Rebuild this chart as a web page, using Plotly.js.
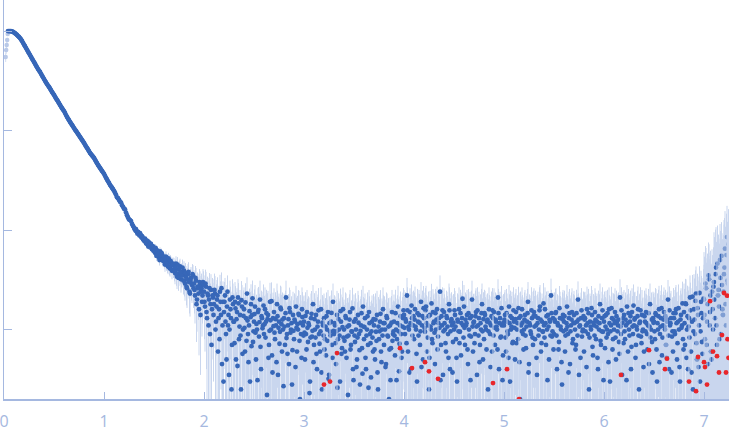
<!DOCTYPE html>
<html>
<head>
<meta charset="utf-8">
<script src="https://cdn.plot.ly/plotly-3.0.1.min.js"></script>
<style>
  html, body { margin: 0; padding: 0; background: #ffffff; }
  #chart { width: 729px; height: 437px; }
</style>
</head>
<body>
<div id="chart"></div>
<script>
// first low-q points, shown faded (excluded)
var fadedX = [0.017, 0.022, 0.027, 0.032, 0.037];
var fadedY = [548, 644, 723, 812, 933];
var fadedErr = [60, 55, 50, 45, 40];

// smooth part of the curve
var curveX = [
  0.04,0.05,0.06,0.07,0.08,0.09,0.10,0.11,0.12,0.13,
  0.14,0.15,0.16,0.17,0.18,0.19,0.20,0.21,0.22,0.23,
  0.24,0.25,0.26,0.27,0.28,0.29,0.30,0.31,0.32,0.33,
  0.34,0.35,0.36,0.37,0.38,0.39,0.40,0.41,0.42,0.43,
  0.44,0.45,0.46,0.47,0.48,0.49,0.50,0.51,0.52,0.53,
  0.54,0.55,0.56,0.57,0.58,0.59,0.60,0.61,0.62,0.63,
  0.64,0.65,0.66,0.67,0.68,0.69,0.70,0.71,0.72,0.73,
  0.74,0.75,0.76,0.77,0.78,0.79,0.80,0.81,0.82,0.83,
  0.84,0.85,0.86,0.87,0.88,0.89,0.90,0.91,0.92,0.93,
  0.94,0.95,0.96,0.97,0.98,0.99,1.00,1.01,1.02,1.03,
  1.04,1.05,1.06,1.07,1.08,1.09,1.10,1.11,1.12,1.13,
  1.14,1.15,1.16,1.17,1.18,1.19,1.20,1.21,1.22,1.23,
  1.24,1.25,1.26,1.27,1.28,1.29
];
var curveY = [
  1000,1000,998,995,990,979,966,950,933,912,
  891,871,850,822,794,762,732,703,675,648,
  622,597,574,551,529,508,488,469,450,432,
  415,401,388,372,357,343,329,316,304,293,
  283,274,265,254,244,236,228,219,210,203,
  196,188,181,174,168,162,157,150,143,137,
  132,127,122,118,114,110,106,102,99,95.7,
  92.5,89.4,86.3,83.3,80.5,77.7,75.1,72.1,69.3,66.9,
  64.6,62.0,59.6,57.9,56.2,54.6,53.0,50.9,48.9,47.0,
  45.1,43.6,42.1,40.7,39.3,38.0,36.7,35.1,33.5,32.2,
  30.9,29.7,28.5,27.5,26.6,25.7,24.8,23.7,22.6,21.3,
  20.9,20.1,19.3,18.9,17.8,17.1,16.4,16.1,15.0,14.1,
  13.4,12.8,12.6,12.3,11.5,11.0
];
var curveErr = [
  4,4,4,4,4,4,4,3.9,3.8,3.7,
  3.6,3.5,3.4,3.3,3.2,3.1,3,2.9,2.8,2.7,
  2.6,2.55,2.5,2.45,2.4,2.3,2.2,2.15,2.1,2.05,
  2,1.95,1.9,1.85,1.8,1.75,1.7,1.65,1.6,1.55,
  1.5,1.48,1.45,1.42,1.4,1.35,1.3,1.28,1.25,1.22,
  1.2,1.18,1.15,1.12,1.1,1.08,1.05,1.02,1,0.98,
  0.95,0.92,0.9,0.89,0.88,0.86,0.85,0.82,0.8,0.79,
  0.78,0.76,0.75,0.74,0.72,0.71,0.7,0.69,0.67,0.66,
  0.65,0.64,0.62,0.61,0.6,0.59,0.58,0.57,0.56,0.55,
  0.54,0.53,0.52,0.51,0.5,0.49,0.48,0.47,0.46,0.46,
  0.45,0.45,0.44,0.43,0.42,0.42,0.41,0.4,0.4,0.39,
  0.39,0.38,0.38,0.37,0.37,0.36,0.36,0.35,0.35,0.35,
  0.35,0.34,0.34,0.34,0.34,0.34
];

// noisy part, one row per 0.1 in q (points on the hundredths)
var noiseX = [
  [1.30,1.31,1.32,1.33,1.34,1.35,1.36,1.37,1.38,1.39],
  [1.40,1.41,1.42,1.43,1.44,1.45,1.46,1.47,1.48,1.49],
  [1.50,1.51,1.52,1.53,1.54,1.55,1.56,1.57,1.58,1.59],
  [1.60,1.61,1.62,1.63,1.64,1.65,1.66,1.67,1.68,1.69],
  [1.70,1.71,1.72,1.73,1.74,1.75,1.76,1.77,1.78,1.79],
  [1.80,1.81,1.82,1.83,1.84,1.85,1.86,1.87,1.88,1.89],
  [1.90,1.91,1.92,1.93,1.94,1.95,1.96,1.97,1.98,1.99],
  [2.00,2.01,2.02,2.03,2.04,2.05,2.06,2.07,2.08,2.09],
  [2.10,2.11,2.12,2.13,2.14,2.15,2.16,2.17,2.18,2.19],
  [2.20,2.21,2.22,2.23,2.24,2.25,2.26,2.27,2.28,2.29],
  [2.30,2.31,2.32,2.33,2.34,2.35,2.36,2.37,2.38,2.39],
  [2.40,2.41,2.42,2.43,2.44,2.45,2.46,2.47,2.48,2.49],
  [2.50,2.51,2.52,2.53,2.54,2.55,2.56,2.57,2.58,2.59],
  [2.60,2.61,2.62,2.63,2.64,2.65,2.66,2.67,2.68,2.69],
  [2.70,2.71,2.72,2.73,2.74,2.75,2.76,2.77,2.78,2.79],
  [2.80,2.81,2.82,2.83,2.84,2.85,2.86,2.87,2.88,2.89],
  [2.90,2.91,2.92,2.93,2.94,2.95,2.96,2.97,2.98,2.99],
  [3.00,3.01,3.02,3.03,3.04,3.05,3.06,3.07,3.08,3.09],
  [3.10,3.11,3.12,3.13,3.14,3.15,3.16,3.17,3.18,3.19],
  [3.20,3.21,3.22,3.23,3.24,3.25,3.26,3.27,3.28,3.29],
  [3.30,3.31,3.32,3.33,3.34,3.35,3.36,3.37,3.38,3.39],
  [3.40,3.41,3.42,3.43,3.44,3.45,3.46,3.47,3.48,3.49],
  [3.50,3.51,3.52,3.53,3.54,3.55,3.56,3.57,3.58,3.59],
  [3.60,3.61,3.62,3.63,3.64,3.65,3.66,3.67,3.68,3.69],
  [3.70,3.71,3.72,3.73,3.74,3.75,3.76,3.77,3.78,3.79],
  [3.80,3.81,3.82,3.83,3.84,3.85,3.86,3.87,3.88,3.89],
  [3.90,3.91,3.92,3.93,3.94,3.95,3.96,3.97,3.98,3.99],
  [4.00,4.01,4.02,4.03,4.04,4.05,4.06,4.07,4.08,4.09],
  [4.10,4.11,4.12,4.13,4.14,4.15,4.16,4.17,4.18,4.19],
  [4.20,4.21,4.22,4.23,4.24,4.25,4.26,4.27,4.28,4.29],
  [4.30,4.31,4.32,4.33,4.34,4.35,4.36,4.37,4.38,4.39],
  [4.40,4.41,4.42,4.43,4.44,4.45,4.46,4.47,4.48,4.49],
  [4.50,4.51,4.52,4.53,4.54,4.55,4.56,4.57,4.58,4.59],
  [4.60,4.61,4.62,4.63,4.64,4.65,4.66,4.67,4.68,4.69],
  [4.70,4.71,4.72,4.73,4.74,4.75,4.76,4.77,4.78,4.79],
  [4.80,4.81,4.82,4.83,4.84,4.85,4.86,4.87,4.88,4.89],
  [4.90,4.91,4.92,4.93,4.94,4.95,4.96,4.97,4.98,4.99],
  [5.00,5.01,5.02,5.03,5.04,5.05,5.06,5.07,5.08,5.09],
  [5.10,5.11,5.12,5.13,5.14,5.15,5.16,5.17,5.18,5.19],
  [5.20,5.21,5.22,5.23,5.24,5.25,5.26,5.27,5.28,5.29],
  [5.30,5.31,5.32,5.33,5.34,5.35,5.36,5.37,5.38,5.39],
  [5.40,5.41,5.42,5.43,5.44,5.45,5.46,5.47,5.48,5.49],
  [5.50,5.51,5.52,5.53,5.54,5.55,5.56,5.57,5.58,5.59],
  [5.60,5.61,5.62,5.63,5.64,5.65,5.66,5.67,5.68,5.69],
  [5.70,5.71,5.72,5.73,5.74,5.75,5.76,5.77,5.78,5.79],
  [5.80,5.81,5.82,5.83,5.84,5.85,5.86,5.87,5.88,5.89],
  [5.90,5.91,5.92,5.93,5.94,5.95,5.96,5.97,5.98,5.99],
  [6.00,6.01,6.02,6.03,6.04,6.05,6.06,6.07,6.08,6.09],
  [6.10,6.11,6.12,6.13,6.14,6.15,6.16,6.17,6.18,6.19],
  [6.20,6.21,6.22,6.23,6.24,6.25,6.26,6.27,6.28,6.29],
  [6.30,6.31,6.32,6.33,6.34,6.35,6.36,6.37,6.38,6.39],
  [6.40,6.41,6.42,6.43,6.44,6.45,6.46,6.47,6.48,6.49],
  [6.50,6.51,6.52,6.53,6.54,6.55,6.56,6.57,6.58,6.59],
  [6.60,6.61,6.62,6.63,6.64,6.65,6.66,6.67,6.68,6.69],
  [6.70,6.71,6.72,6.73,6.74,6.75,6.76,6.77,6.78,6.79],
  [6.80,6.81,6.82,6.83,6.84,6.85,6.86,6.87,6.88,6.89],
  [6.90,6.91,6.92,6.93,6.94,6.95,6.96,6.97,6.98,6.99],
  [7.00,7.01,7.02,7.03,7.04,7.05,7.06,7.07,7.08,7.09],
  [7.10,7.11,7.12,7.13,7.14,7.15,7.16,7.17,7.18,7.19],
  [7.20,7.21,7.22,7.23,7.24]
];
var noiseY = [
  [10.6,10.1,10.2,9.5,9.6,9.0,9.3,8.6,8.7,8.1],
  [7.9,8.2,7.4,7.6,7.0,7.5,6.9,7.2,6.4,6.8],
  [6.5,5.9,6.4,5.6,6.0,5.3,6.1,5.2,5.7,4.9],
  [5.2,4.5,5.4,4.8,4.3,5.0,4.1,4.7,3.9,4.6],
  [4.4,3.7,4.6,3.4,4.0,3.6,4.3,3.2,3.8,3.5],
  [3.9,2.9,3.4,2.6,3.6,3.0,2.3,3.3,2.8,3.5],
  [2.9,2.2,3.1,2.0,2.6,1.6,2.8,2.4,1.9,3.0],
  [2.4,1.7,2.7,1.3,2.2,2.0,0.9,2.5,1.6,2.1],
  [1.8,2.3,1.2,2.0,0.6,1.6,2.4,1.4,0.45,1.9],
  [1.5,2.2,0.9,1.7,1.1,0.35,2.0,1.3,0.7,1.8],
  [1.2,1.9,0.5,1.5,2.1,0.8,1.4,0.25,1.7,1.0],
  [1.6,0.6,1.3,2.3,0.9,1.1,0.3,1.8,1.4,0.75],
  [1.2,1.7,0.5,1.0,1.5,0.85,2.0,0.4,1.3,1.1],
  [0.9,1.6,1.2,0.22,1.4,0.7,1.9,1.0,0.55,1.3],
  [1.5,0.8,1.1,1.8,0.35,1.2,0.95,1.6,0.6,1.0],
  [1.3,0.7,2.1,0.9,1.1,0.45,1.5,1.0,0.28,1.4],
  [0.8,1.2,1.7,0.6,1.0,1.4,0.2,0.9,1.6,1.1],
  [1.2,0.5,0.9,1.5,0.75,1.1,0.3,1.3,0.85,1.8],
  [0.7,1.0,1.4,0.4,1.2,0.9,0.6,1.6,0.25,1.1],
  [1.3,0.8,0.55,1.0,1.5,0.35,0.95,1.2,0.7,1.9],
  [0.9,1.1,0.45,1.4,0.8,1.0,0.3,1.2,0.65,1.6],
  [1.0,0.6,1.3,0.85,0.22,1.1,1.5,0.7,0.95,0.4],
  [1.2,0.75,1.0,0.5,1.4,0.9,0.28,1.1,0.65,1.7],
  [0.8,1.3,0.4,1.0,0.7,1.5,0.9,0.33,1.2,0.6],
  [1.1,0.5,0.95,1.4,0.25,0.8,1.2,0.6,1.0,1.6],
  [0.7,1.0,0.45,1.3,0.85,0.2,1.1,0.65,1.5,0.9],
  [1.2,0.55,1.0,0.8,1.7,0.38,1.1,0.9,0.6,1.3],
  [1.4,0.9,1.2,2.2,0.6,1.0,1.5,0.4,1.3,1.1],
  [0.8,1.6,1.0,0.3,1.2,1.4,0.7,1.9,1.1,0.5],
  [1.3,0.95,1.7,0.6,1.1,0.25,1.4,1.0,0.8,1.5],
  [1.2,0.45,1.0,1.6,0.85,1.3,2.4,0.7,1.1,0.35],
  [1.5,1.0,0.6,1.3,0.9,1.8,0.4,1.2,1.1,0.75],
  [1.0,1.4,0.8,0.3,1.2,1.6,0.95,0.55,1.3,1.1],
  [1.7,0.7,1.1,1.4,0.45,1.0,1.3,0.85,2.0,0.6],
  [1.2,0.9,1.5,0.35,1.1,1.3,0.7,1.0,1.8,0.5],
  [0.8,1.4,1.0,1.2,0.25,1.6,0.9,1.1,0.6,1.3],
  [1.5,0.7,1.2,1.0,2.1,0.4,1.3,0.85,1.1,0.55],
  [1.1,1.4,0.6,1.2,0.9,1.7,0.3,1.0,1.3,0.75],
  [1.2,0.5,1.5,1.0,0.8,1.3,0.2,1.1,1.6,0.9],
  [1.0,1.4,0.65,1.2,1.9,0.45,1.1,0.9,1.3,0.7],
  [1.5,0.8,1.1,0.35,1.3,1.0,1.7,0.6,1.2,0.95],
  [1.1,1.6,0.7,1.0,1.4,0.5,1.2,2.2,0.85,1.3],
  [0.9,1.2,1.5,0.4,1.1,0.75,1.3,1.0,0.28,1.4],
  [1.2,0.6,1.0,1.7,0.9,1.3,0.45,1.1,1.5,0.8],
  [1.4,1.0,0.7,1.2,2.0,0.35,1.1,1.3,0.85,1.0],
  [0.6,1.3,1.1,1.6,0.9,0.25,1.2,1.0,1.4,0.55],
  [1.1,1.5,0.8,1.2,0.4,1.0,1.8,0.7,1.3,0.95],
  [1.2,0.65,1.4,1.0,0.9,1.6,0.3,1.1,1.3,0.8],
  [1.0,1.5,0.5,1.2,1.1,0.75,2.1,0.9,0.35,1.3],
  [1.4,0.8,1.1,1.7,0.6,1.0,1.2,0.4,1.5,0.9],
  [1.1,1.3,0.7,1.0,1.6,0.25,1.2,0.85,1.4,1.0],
  [0.6,1.2,1.5,0.9,1.1,0.45,1.8,1.0,0.75,1.3],
  [1.2,0.8,1.4,0.3,1.0,1.6,0.9,1.3,0.55,1.1],
  [1.5,1.0,0.7,1.2,2.0,0.4,1.1,1.3,0.85,0.6],
  [1.3,0.9,1.6,0.5,1.2,1.0,0.3,1.4,1.1,0.8],
  [1.5,0.7,1.8,1.0,0.4,1.3,2.1,0.6,1.2,0.25],
  [1.6,0.9,2.3,0.5,1.4,1.1,0.3,1.9,0.75,1.3],
  [2.0,0.8,2.6,1.2,0.45,3.2,1.5,0.6,2.4,1.0],
  [3.0,1.3,4.2,0.7,2.2,1.7,5.0,0.9,2.8,1.4],
  [3.6,6.5,1.1,8.5,2.9]
];
// noisy part, points on the half-hundredths
var noiseX2 = [
  [1.305,1.315,1.325,1.335,1.345,1.355,1.365,1.375,1.385,1.395],
  [1.405,1.415,1.425,1.435,1.445,1.455,1.465,1.475,1.485,1.495],
  [1.505,1.515,1.525,1.535,1.545,1.555,1.565,1.575,1.585,1.595],
  [1.605,1.615,1.625,1.635,1.645,1.655,1.665,1.675,1.685,1.695],
  [1.705,1.715,1.725,1.735,1.745,1.755,1.765,1.775,1.785,1.795],
  [1.805,1.815,1.825,1.835,1.845,1.855,1.865,1.875,1.885,1.895],
  [1.905,1.915,1.925,1.935,1.945,1.955,1.965,1.975,1.985,1.995],
  [2.005,2.015,2.025,2.035,2.045,2.055,2.065,2.075,2.085,2.095],
  [2.105,2.115,2.125,2.135,2.145,2.155,2.165,2.175,2.185,2.195],
  [2.205,2.215,2.225,2.235,2.245,2.255,2.265,2.275,2.285,2.295],
  [2.305,2.315,2.325,2.335,2.345,2.355,2.365,2.375,2.385,2.395],
  [2.405,2.415,2.425,2.435,2.445,2.455,2.465,2.475,2.485,2.495],
  [2.505,2.515,2.525,2.535,2.545,2.555,2.565,2.575,2.585,2.595],
  [2.605,2.615,2.625,2.635,2.645,2.655,2.665,2.675,2.685,2.695],
  [2.705,2.715,2.725,2.735,2.745,2.755,2.765,2.775,2.785,2.795],
  [2.805,2.815,2.825,2.835,2.845,2.855,2.865,2.875,2.885,2.895],
  [2.905,2.915,2.925,2.935,2.945,2.955,2.965,2.975,2.985,2.995],
  [3.005,3.015,3.025,3.035,3.045,3.055,3.065,3.075,3.085,3.095],
  [3.105,3.115,3.125,3.135,3.145,3.155,3.165,3.175,3.185,3.195],
  [3.205,3.215,3.225,3.235,3.245,3.255,3.265,3.275,3.285,3.295],
  [3.305,3.315,3.325,3.335,3.345,3.355,3.365,3.375,3.385,3.395],
  [3.405,3.415,3.425,3.435,3.445,3.455,3.465,3.475,3.485,3.495],
  [3.505,3.515,3.525,3.535,3.545,3.555,3.565,3.575,3.585,3.595],
  [3.605,3.615,3.625,3.635,3.645,3.655,3.665,3.675,3.685,3.695],
  [3.705,3.715,3.725,3.735,3.745,3.755,3.765,3.775,3.785,3.795],
  [3.805,3.815,3.825,3.835,3.845,3.855,3.865,3.875,3.885,3.895],
  [3.905,3.915,3.925,3.935,3.945,3.955,3.965,3.975,3.985,3.995],
  [4.005,4.015,4.025,4.035,4.045,4.055,4.065,4.075,4.085,4.095],
  [4.105,4.115,4.125,4.135,4.145,4.155,4.165,4.175,4.185,4.195],
  [4.205,4.215,4.225,4.235,4.245,4.255,4.265,4.275,4.285,4.295],
  [4.305,4.315,4.325,4.335,4.345,4.355,4.365,4.375,4.385,4.395],
  [4.405,4.415,4.425,4.435,4.445,4.455,4.465,4.475,4.485,4.495],
  [4.505,4.515,4.525,4.535,4.545,4.555,4.565,4.575,4.585,4.595],
  [4.605,4.615,4.625,4.635,4.645,4.655,4.665,4.675,4.685,4.695],
  [4.705,4.715,4.725,4.735,4.745,4.755,4.765,4.775,4.785,4.795],
  [4.805,4.815,4.825,4.835,4.845,4.855,4.865,4.875,4.885,4.895],
  [4.905,4.915,4.925,4.935,4.945,4.955,4.965,4.975,4.985,4.995],
  [5.005,5.015,5.025,5.035,5.045,5.055,5.065,5.075,5.085,5.095],
  [5.105,5.115,5.125,5.135,5.145,5.155,5.165,5.175,5.185,5.195],
  [5.205,5.215,5.225,5.235,5.245,5.255,5.265,5.275,5.285,5.295],
  [5.305,5.315,5.325,5.335,5.345,5.355,5.365,5.375,5.385,5.395],
  [5.405,5.415,5.425,5.435,5.445,5.455,5.465,5.475,5.485,5.495],
  [5.505,5.515,5.525,5.535,5.545,5.555,5.565,5.575,5.585,5.595],
  [5.605,5.615,5.625,5.635,5.645,5.655,5.665,5.675,5.685,5.695],
  [5.705,5.715,5.725,5.735,5.745,5.755,5.765,5.775,5.785,5.795],
  [5.805,5.815,5.825,5.835,5.845,5.855,5.865,5.875,5.885,5.895],
  [5.905,5.915,5.925,5.935,5.945,5.955,5.965,5.975,5.985,5.995],
  [6.005,6.015,6.025,6.035,6.045,6.055,6.065,6.075,6.085,6.095],
  [6.105,6.115,6.125,6.135,6.145,6.155,6.165,6.175,6.185,6.195],
  [6.205,6.215,6.225,6.235,6.245,6.255,6.265,6.275,6.285,6.295],
  [6.305,6.315,6.325,6.335,6.345,6.355,6.365,6.375,6.385,6.395],
  [6.405,6.415,6.425,6.435,6.445,6.455,6.465,6.475,6.485,6.495],
  [6.505,6.515,6.525,6.535,6.545,6.555,6.565,6.575,6.585,6.595],
  [6.605,6.615,6.625,6.635,6.645,6.655,6.665,6.675,6.685,6.695],
  [6.705,6.715,6.725,6.735,6.745,6.755,6.765,6.775,6.785,6.795],
  [6.805,6.815,6.825,6.835,6.845,6.855,6.865,6.875,6.885,6.895],
  [6.905,6.915,6.925,6.935,6.945,6.955,6.965,6.975,6.985,6.995],
  [7.005,7.015,7.025,7.035,7.045,7.055,7.065,7.075,7.085,7.095],
  [7.105,7.115,7.125,7.135,7.145,7.155,7.165,7.175,7.185,7.195],
  [7.205,7.215,7.225,7.235,7.245]
];
var noiseY2 = [
  [10.3,9.9,9.7,9.2,9.4,8.8,9.0,8.4,8.5,8.0],
  [7.7,7.9,7.3,7.8,6.8,7.1,7.3,6.6,6.9,6.2],
  [6.1,6.6,5.5,6.2,5.8,5.0,5.6,5.9,5.0,5.4],
  [4.8,5.1,4.6,4.4,5.2,4.2,4.9,4.4,4.5,4.0],
  [3.9,4.2,3.6,4.5,3.3,4.1,3.7,3.5,4.2,3.1],
  [3.1,3.7,2.7,3.2,3.8,2.4,3.1,2.9,3.6,2.6],
  [2.5,3.3,1.8,2.7,2.3,3.0,1.4,2.6,2.2,2.8],
  [1.9,2.9,1.5,2.3,1.1,2.6,1.8,0.7,2.2,1.4],
  [2.5,1.0,1.7,2.2,1.3,0.8,1.9,2.6,1.1,0.3],
  [1.9,1.2,0.5,2.4,1.4,1.0,1.6,0.25,2.1,1.2],
  [0.73,1.63,1.27,0.43,1.83,1.07,0.87,1.97,0.57,1.37],
  [1.04,1.87,0.77,1.23,0.47,1.53,1.33,0.68,2.06,0.96],
  [1.43,0.93,1.14,0.31,1.58,1.19,0.67,1.36,1.03,1.74],
  [1.13,0.83,1.46,1.27,0.52,0.97,1.24,1.93,0.37,1.08],
  [0.93,1.27,0.47,1.36,1.04,0.72,1.66,1.13,1.26,0.27],
  [1.07,1.46,0.82,0.57,1.27,1.64,0.93,1.16,0.62,0.97],
  [1.26,0.42,1.04,1.13,1.44,0.77,1.17,0.52,1.33,0.87],
  [0.93,1.37,0.63,1.04,1.16,0.23,0.83,1.44,0.97,0.47],
  [1.27,0.83,0.57,1.07,1.56,0.72,0.96,0.37,1.17,0.87],
  [0.63,1.07,1.36,0.77,0.32,1.16,0.87,1.47,0.52,0.97],
  [1.16,0.73,0.96,0.26,1.27,0.87,1.53,0.57,1.06,0.83],
  [0.77,1.36,0.52,1.07,0.87,1.26,0.63,0.96,1.63,0.31],
  [0.87,1.27,0.42,0.83,1.17,0.62,0.97,1.46,0.36,1.07],
  [1.06,0.52,0.87,1.36,0.26,1.16,0.73,0.96,0.83,1.27],
  [0.63,1.26,0.77,0.37,1.07,0.96,1.44,0.47,0.87,1.16],
  [1.16,0.42,1.36,0.87,1.07,0.63,0.31,1.17,0.77,0.96],
  [0.87,1.46,0.31,1.16,0.96,0.72,1.36,0.52,1.07,1.56],
  [1.04,1.27,0.73,1.56,1.07,0.37,1.16,1.74,0.87,1.36],
  [1.26,1.07,0.57,1.46,0.87,1.17,0.96,0.42,1.36,1.64],
  [1.04,1.56,1.16,0.83,1.36,0.52,1.07,1.83,0.73,1.16],
  [0.93,1.46,1.26,0.63,1.16,1.04,0.31,1.36,1.56,0.96],
  [1.16,0.73,1.36,1.07,0.52,1.56,0.96,1.27,0.37,1.17],
  [1.56,1.07,0.52,1.26,0.96,0.73,1.46,1.16,2.04,0.83],
  [1.04,1.26,1.16,0.63,1.46,0.87,0.31,1.36,1.07,1.17],
  [0.73,1.36,1.07,1.56,0.87,0.47,1.16,1.46,0.96,1.27],
  [1.46,1.07,0.63,1.26,0.96,1.17,0.42,1.36,1.56,0.87],
  [1.04,1.26,1.07,0.63,1.46,1.16,0.83,1.64,0.31,1.17],
  [1.26,0.83,1.46,0.96,0.52,1.16,1.36,1.07,0.73,1.56],
  [1.04,1.27,0.73,1.16,1.64,0.47,1.36,0.96,1.17,0.63],
  [1.26,0.87,1.07,1.46,0.37,1.16,0.96,1.56,0.83,1.36],
  [1.07,1.36,0.52,1.16,0.87,1.56,1.26,0.73,0.96,1.83],
  [0.83,1.16,1.36,0.31,1.07,1.26,0.87,1.46,0.96,0.63],
  [1.26,1.46,0.87,1.16,0.63,1.64,1.07,0.47,1.27,0.96],
  [1.36,0.87,1.16,1.07,0.37,1.46,0.96,1.26,0.73,1.17],
  [1.16,0.63,1.46,0.87,1.26,1.07,0.52,1.56,0.96,1.36],
  [1.26,0.96,0.42,1.16,1.46,0.83,1.07,1.64,0.67,1.17],
  [0.87,1.26,1.07,0.52,1.36,1.16,0.77,0.96,1.56,0.31],
  [1.36,1.07,0.83,1.46,0.47,1.16,0.96,1.64,0.63,1.26],
  [1.16,0.83,1.36,0.96,1.26,0.57,1.07,1.56,1.17,0.73],
  [0.96,1.26,0.31,1.16,1.46,0.87,1.36,0.67,1.07,1.74],
  [1.26,0.52,1.07,1.36,0.87,1.16,1.56,0.73,0.96,0.42],
  [1.36,0.96,1.16,0.63,1.46,1.07,0.83,1.26,0.37,1.17],
  [0.96,1.46,0.63,1.16,1.36,0.47,1.07,1.64,0.83,1.26],
  [1.07,1.36,0.52,1.26,0.87,1.56,1.16,0.37,0.96,1.46],
  [0.96,1.46,1.16,0.73,1.64,0.42,1.26,1.04,1.83,0.63],
  [1.16,1.83,0.52,1.36,1.07,0.83,1.56,0.37,2.14,0.96],
  [1.26,1.94,0.73,1.64,0.42,2.33,0.96,1.46,0.57,2.04],
  [1.4,2.9,0.7,1.8,3.5,1.1,2.2,0.5,1.6,2.7],
  [2.0,3.6,1.1,4.6,2.5,0.8,3.3,5.5,1.6,2.4],
  [4.2,1.8,5.6,3.1,7.2]
];
// error level for each 0.1 row above
var noiseErr = [
  0.35,0.45,0.6,0.7,0.85,0.95,1.05,1.1,1.15,1.1,
  1.1,1.05,1.1,1.05,1.1,1.0,1.05,1.0,1.05,1.0,
  1.05,1.0,1.05,1.0,1.05,1.0,1.05,1.1,1.1,1.05,
  1.1,1.1,1.05,1.1,1.1,1.05,1.1,1.1,1.05,1.1,
  1.1,1.05,1.1,1.1,1.05,1.1,1.1,1.05,1.1,1.1,
  1.1,1.1,1.15,1.15,1.2,1.4,2.0,4.0,6.5,9.0
];

// points flagged in red
var redX = [3.20,3.26,3.33,3.96,4.08,4.21,4.25,4.34,4.89,5.03,5.15,6.17,6.45,6.61,6.63,6.85,
            6.92,6.94,7.00,7.01,7.03,7.06,7.09,7.13,7.15,7.18,7.20,7.22,7.23,7.235,7.245];
var redY = [0.28,0.30,0.58,0.65,0.41,0.47,0.38,0.32,0.29,0.40,0.20,0.35,0.62,0.40,0.51,0.30,
            0.24,0.53,0.47,0.42,0.28,1.93,0.60,0.54,0.37,0.88,2.33,0.37,2.19,0.80,0.52];
var redErr = [1.0,1.0,1.0,1.05,1.1,1.05,1.05,1.1,1.1,1.1,1.05,1.1,1.1,1.15,1.15,1.4,
              2.0,2.0,4.0,4.0,4.0,4.0,4.0,6.5,6.5,6.5,9,9,9,9,9];

var xTicks = [0, 1, 2, 3, 4, 5, 6, 7];
var yTicks = [1, 10, 100, 1000];

var blueX = curveX.slice(), blueY = curveY.slice(), blueErr = curveErr.slice();
function addRows(rowsX, rowsY) {
    rowsX.forEach(function(row, b) {
        row.forEach(function(x, i) {
            blueX.push(x);
            blueY.push(rowsY[b][i]);
            blueErr.push(noiseErr[b]);
        });
    });
}
addRows(noiseX, noiseY);
addRows(noiseX2, noiseY2);

var barColor = '#c9d6ee';
var axisColor = '#a5b8e0';

var traceFaded = {
    x: fadedX, y: fadedY, type: 'scatter', mode: 'markers',
    marker: { size: 4.5, color: '#b9c9e8' },
    error_y: { type: 'data', array: fadedErr, visible: true, color: '#d3ddf1', thickness: 1, width: 0 },
    hoverinfo: 'skip'
};
var traceBlue = {
    x: blueX, y: blueY, type: 'scatter', mode: 'markers',
    marker: { size: 4.8, color: '#3767b8' },
    error_y: { type: 'data', array: blueErr, visible: true, color: barColor, thickness: 1, width: 0 }
};
var traceRed = {
    x: redX, y: redY, type: 'scatter', mode: 'markers',
    marker: { size: 4.8, color: '#e8262b' },
    error_y: { type: 'data', array: redErr, visible: true, color: barColor, thickness: 1, width: 0 }
};

var layout = {
    width: 729, height: 437,
    paper_bgcolor: '#ffffff', plot_bgcolor: '#ffffff',
    margin: { l: 4, r: 0, t: 0, b: 38 },
    showlegend: false,
    xaxis: {
        range: [0, 7.25], tickvals: xTicks, ticks: 'inside', ticklen: 7, tickwidth: 1, tickcolor: axisColor,
        showline: true, linecolor: axisColor, linewidth: 1.5, showgrid: false, zeroline: false,
        tickfont: { family: 'Open Sans', size: 16, color: axisColor },
        ticklabelstandoff: 7, ticklabeloverflow: 'allow'
    },
    yaxis: {
        type: 'log', range: [-0.698, 3.312], tickvals: yTicks, ticks: 'inside', ticklen: 8, tickwidth: 1,
        tickcolor: axisColor, showticklabels: false,
        showline: true, linecolor: axisColor, linewidth: 1.5, showgrid: false, zeroline: false
    }
};

Plotly.newPlot('chart', [traceFaded, traceBlue, traceRed], layout, { displayModeBar: false, staticPlot: true });
</script>
</body>
</html>
